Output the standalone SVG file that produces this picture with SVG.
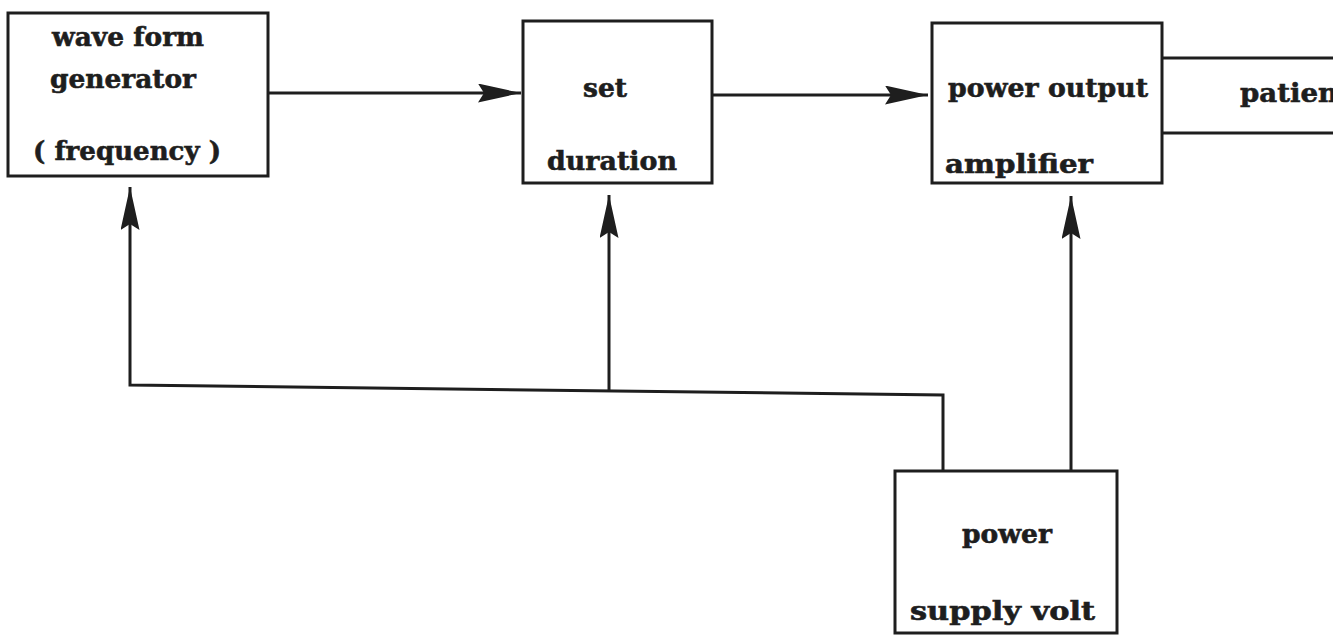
<svg xmlns="http://www.w3.org/2000/svg" width="1333" height="635" viewBox="0 0 1333 635">
<defs>
<style>
.box{fill:none;stroke:#1e1e1e;stroke-width:3}
.ln{fill:none;stroke:#1e1e1e;stroke-width:3}
.t{font-family:"DejaVu Serif","Liberation Serif",serif;font-weight:bold;font-size:26px;fill:#1e1e1e;stroke:#1e1e1e;stroke-width:0.6}
</style>
<marker id="ah" markerUnits="userSpaceOnUse" markerWidth="46" markerHeight="20" refX="43" refY="9.5" orient="auto">
<path d="M0,0 L43,9.5 L0,19 L6,9.5 z" fill="#1e1e1e"/>
</marker>
</defs>
<rect width="1333" height="635" fill="#ffffff"/>
<g id="connectors">
<line class="ln" x1="268" y1="93" x2="521" y2="93" marker-end="url(#ah)"/>
<line class="ln" x1="712" y1="95" x2="928" y2="95" marker-end="url(#ah)"/>
<polyline class="ln" points="943,471 943,395 130,385 130,187" marker-end="url(#ah)"/>
<line class="ln" x1="609" y1="392" x2="609" y2="195" marker-end="url(#ah)"/>
<line class="ln" x1="1071" y1="471" x2="1071" y2="196" marker-end="url(#ah)"/>
<line class="ln" x1="1162" y1="58" x2="1333" y2="58"/>
<line class="ln" x1="1162" y1="133" x2="1333" y2="133"/>
</g>
<g id="waveform">
<rect class="box" x="8" y="13" width="260" height="163"/>
<text class="t" x="52" y="46" textLength="152" lengthAdjust="spacingAndGlyphs">wave form</text>
<text class="t" x="50" y="88" textLength="146" lengthAdjust="spacingAndGlyphs">generator</text>
<text class="t" x="33" y="160" textLength="188" lengthAdjust="spacingAndGlyphs">( frequency )</text>
</g>
<g id="duration">
<rect class="box" x="523" y="21" width="189" height="162"/>
<text class="t" x="583" y="97" textLength="44" lengthAdjust="spacingAndGlyphs">set</text>
<text class="t" x="547" y="170" textLength="130" lengthAdjust="spacingAndGlyphs">duration</text>
</g>
<g id="amplifier">
<rect class="box" x="932" y="23" width="230" height="160"/>
<text class="t" x="948" y="97" textLength="200" lengthAdjust="spacingAndGlyphs">power output</text>
<text class="t" x="945" y="173" textLength="148" lengthAdjust="spacingAndGlyphs">amplifier</text>
</g>
<g id="patient">
<text class="t" x="1240" y="102" textLength="98" lengthAdjust="spacingAndGlyphs">patien</text>
</g>
<g id="powersupply">
<rect class="box" x="895" y="471" width="222" height="162"/>
<text class="t" x="962" y="543" textLength="90" lengthAdjust="spacingAndGlyphs">power</text>
<text class="t" x="910" y="620" textLength="185" lengthAdjust="spacingAndGlyphs">supply  volt</text>
</g>
</svg>
